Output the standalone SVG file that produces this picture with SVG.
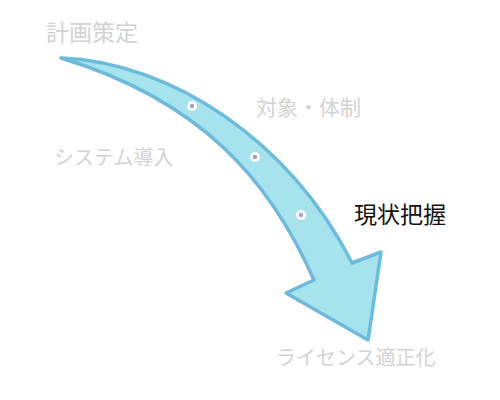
<svg xmlns="http://www.w3.org/2000/svg" width="500" height="400" viewBox="0 0 500 400">
<style>
.lbl{font-family:"Noto Sans CJK JP","Noto Sans CJK SC",sans-serif;fill:#d3d3d3}
.act{fill:#111111}
.arrow{fill:#a6e3ec;stroke:#6cbbdc;stroke-width:3.5;stroke-linejoin:round}
.ring{fill:#ffffff}
.core{fill:#a99cc9}
</style>
<rect width="500" height="400" fill="#ffffff"/>
<g id="connectors">
<path class="arrow" d="M61,58 C170,62 290,140 352,263 L381,252 L368,340 L286,293 L314,280 C270,180 200,100 61,58 Z"/>
</g>
<g id="dots">
<circle class="ring" cx="192" cy="106" r="5"/><circle class="core" cx="192" cy="106" r="2.2"/>
<circle class="ring" cx="255" cy="157" r="5"/><circle class="core" cx="255" cy="157" r="2.2"/>
<circle class="ring" cx="301" cy="215" r="5"/><circle class="core" cx="301" cy="215" r="2.2"/>
</g>
<g id="n1"><text class="lbl" x="46" y="41" font-size="23">計画策定</text></g>
<g id="n2"><text class="lbl" x="256" y="115" font-size="21">対象・体制</text></g>
<g id="n3"><text class="lbl" x="54" y="165" font-size="20">システム導入</text></g>
<g id="n4"><text class="lbl act" x="354" y="223" font-size="23">現状把握</text></g>
<g id="n5"><text class="lbl" x="276" y="365" font-size="20">ライセンス適正化</text></g>
</svg>
